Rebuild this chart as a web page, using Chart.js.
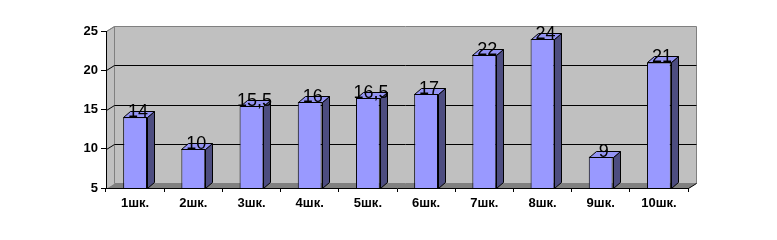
<!DOCTYPE html>
<html lang="ru">
<head>
<meta charset="UTF-8" />
<title>Школы</title>
<script src="https://cdn.jsdelivr.net/npm/chart.js"></script>
<style>
  body { margin: 0; background: #fff; }
</style>
</head>
<body>
<canvas id="schoolChart" width="777" height="240"></canvas>
<script>
  const categories = ["1шк.", "2шк.", "3шк.", "4шк.", "5шк.", "6шк.", "7шк.", "8шк.", "9шк.", "10шк."];
  const values = [14, 10, 15.5, 16, 16.5, 17, 22, 24, 9, 21];
  const yTicks = [5, 10, 15, 20, 25];

  // depth of the fake 3d walls and bars
  const WALL_DX = 8, WALL_DY = 5;
  const BAR_DX = 7, BAR_DY = 6;

  function poly(ctx, pts, fill, stroke) {
    ctx.beginPath();
    ctx.moveTo(pts[0][0], pts[0][1]);
    for (let i = 1; i < pts.length; i++) ctx.lineTo(pts[i][0], pts[i][1]);
    ctx.closePath();
    if (fill) { ctx.fillStyle = fill; ctx.fill(); }
    if (stroke) { ctx.strokeStyle = stroke; ctx.lineWidth = 1; ctx.stroke(); }
  }

  const walls = {
    id: "walls",
    beforeDraw(chart) {
      const { ctx, chartArea: a, scales: { y } } = chart;
      const L = a.left, R = a.right, T = a.top, B = a.bottom;
      ctx.save();
      ctx.translate(0.5, 0.5);
      // left side wall + back wall
      poly(ctx, [[L, T], [L + WALL_DX, T - WALL_DY], [L + WALL_DX, B - WALL_DY], [L, B]], "#c0c0c0");
      poly(ctx, [[L + WALL_DX, T - WALL_DY], [R + WALL_DX, T - WALL_DY], [R + WALL_DX, B - WALL_DY], [L + WALL_DX, B - WALL_DY]], "#c0c0c0", "#808080");
      poly(ctx, [[L, T], [L + WALL_DX, T - WALL_DY]], null, "#808080");
      // floor
      poly(ctx, [[L, B], [L + WALL_DX, B - WALL_DY], [R + WALL_DX, B - WALL_DY], [R, B]], "#808080");
      ctx.beginPath();
      ctx.moveTo(R, B);
      ctx.lineTo(R + WALL_DX, B - WALL_DY);
      ctx.strokeStyle = "#000";
      ctx.stroke();
      // grid lines on the walls
      yTicks.slice(1, -1).forEach((v) => {
        const py = Math.round(y.getPixelForValue(v));
        ctx.beginPath();
        ctx.moveTo(L, py);
        ctx.lineTo(L + WALL_DX, py - WALL_DY);
        ctx.lineTo(R + WALL_DX, py - WALL_DY);
        ctx.strokeStyle = "#000";
        ctx.stroke();
      });
      ctx.restore();
    },
    afterDatasetsDraw(chart) {
      const { ctx, chartArea: a } = chart;
      const meta = chart.getDatasetMeta(0);
      ctx.save();
      meta.data.forEach((bar, i) => {
        const { x, y, base, width } = bar.getProps(["x", "y", "base", "width"], true);
        const l = Math.round(x - width / 2) + 0.5, r = Math.round(x + width / 2) + 0.5;
        const t = Math.round(y) + 0.5, b = Math.round(Math.min(base, a.bottom)) + 0.5;
        // side face
        poly(ctx, [[r, t], [r + BAR_DX, t - BAR_DY], [r + BAR_DX, b - BAR_DY], [r, b]], "#4d4d80", "#000");
        // top face
        poly(ctx, [[l, t], [l + BAR_DX, t - BAR_DY], [r + BAR_DX, t - BAR_DY], [r, t]], "#9494f4", "#000");
        // value label
        ctx.fillStyle = "#000";
        ctx.font = "18px 'Liberation Sans', Arial, sans-serif";
        ctx.textAlign = "center";
        ctx.textBaseline = "alphabetic";
        ctx.fillText(String(values[i]).replace(".", ","), x + 3, y);
      });
      ctx.restore();
    },
  };

  new Chart(document.getElementById("schoolChart"), {
    type: "bar",
    data: {
      labels: categories,
      datasets: [{
        data: values,
        backgroundColor: "#9999ff",
        borderColor: "#000",
        borderWidth: 1,
        barPercentage: 0.41,
        categoryPercentage: 1,
      }],
    },
    options: {
      responsive: false,
      animation: false,
      layout: { padding: { left: 0, top: 31, right: 89, bottom: 0 } },
      plugins: { legend: { display: false }, tooltip: { enabled: false } },
      scales: {
        x: {
          afterFit: (s) => { s.height = 52; },
          grid: { drawOnChartArea: false, color: "#000", tickLength: 4 },
          border: { display: true, color: "#000" },
          ticks: {
            padding: 4,
            color: "#000",
            font: { family: "'Liberation Sans', Arial, sans-serif", size: 13, weight: "bold" },
          },
        },
        y: {
          min: 5,
          max: 25,
          afterFit: (s) => { s.width = 106; },
          grid: { drawOnChartArea: false, color: "#000", tickLength: 5 },
          border: { display: true, color: "#000" },
          ticks: {
            stepSize: 5,
            padding: 3,
            color: "#000",
            font: { family: "'Liberation Sans', Arial, sans-serif", size: 13, weight: "bold" },
          },
        },
      },
    },
    plugins: [walls],
  });
</script>
</body>
</html>
